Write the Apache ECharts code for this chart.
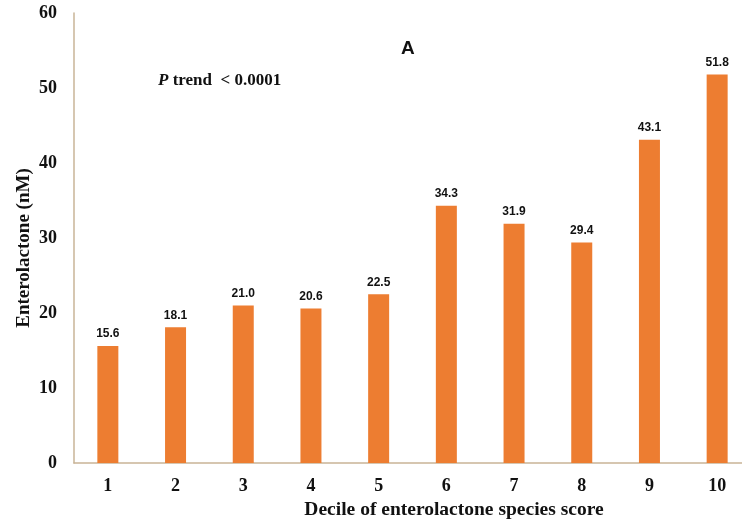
<!DOCTYPE html>
<html>
<head>
<meta charset="utf-8">
<script src="https://cdn.jsdelivr.net/npm/echarts@6/dist/echarts.min.js"></script>
<style>
  html, body { margin: 0; padding: 0; background: #fff; }
  #chart { width: 742px; height: 525px; }
</style>
</head>
<body>
<div id="chart"></div>
<script>
// Deciles of the enterolactone species score and mean enterolactone (nM)
const deciles = ['1', '2', '3', '4', '5', '6', '7', '8', '9', '10'];
const enterolactone = [15.6, 18.1, 21.0, 20.6, 22.5, 34.3, 31.9, 29.4, 43.1, 51.8];
const yTicks = [0, 10, 20, 30, 40, 50, 60];

const serif = '"Liberation Serif", "Times New Roman", serif';
const sans = '"Liberation Sans", Arial, sans-serif';
const axisColor = '#c9b497';

const chart = echarts.init(document.getElementById('chart'));
chart.setOption({
  animation: false,
  backgroundColor: '#ffffff',
  // plot area runs past the right edge of the canvas
  grid: { left: 74, width: 677, top: 13, bottom: 62, containLabel: false, outerBoundsMode: 'none' },
  graphic: [
    {
      type: 'text',
      left: 401, top: 39,
      style: { text: 'A', font: 'bold 19px ' + sans, fill: '#111' }
    },
    {
      type: 'text',
      left: 158, top: 72,
      style: {
        text: '{p|P} trend  < 0.0001',
        font: 'bold 17px ' + serif,
        fill: '#111',
        rich: { p: { fontStyle: 'italic', fontWeight: 'bold', fontSize: 17, fontFamily: serif, fill: '#111' } }
      }
    },
    {
      type: 'text',
      x: 24, y: 248,
      rotation: Math.PI / 2,
      style: {
        text: 'Enterolactone (nM)',
        font: 'bold 19px ' + serif,
        fill: '#111',
        textAlign: 'center',
        textVerticalAlign: 'middle'
      }
    },
    {
      type: 'text',
      x: 454, y: 510,
      style: {
        text: 'Decile of enterolactone species score',
        font: 'bold 19.5px ' + serif,
        fill: '#111',
        textAlign: 'center',
        textVerticalAlign: 'middle'
      }
    }
  ],
  xAxis: {
    type: 'category',
    data: deciles,
    axisLine: { lineStyle: { color: axisColor, width: 1.5 } },
    axisTick: { show: false },
    axisLabel: { fontFamily: serif, fontWeight: 'bold', fontSize: 18, color: '#111', margin: 14 }
  },
  yAxis: {
    type: 'value',
    min: yTicks[0], max: yTicks[yTicks.length - 1], interval: 10,
    axisLine: { show: true, lineStyle: { color: axisColor, width: 1.5 } },
    axisTick: { show: false },
    splitLine: { show: false },
    axisLabel: { fontFamily: serif, fontWeight: 'bold', fontSize: 18, color: '#111', margin: 17 }
  },
  series: [{
    type: 'bar',
    data: enterolactone,
    barWidth: 21,
    itemStyle: { color: '#ED7D31' },
    label: {
      show: true,
      position: 'top',
      distance: 6,
      formatter: p => p.value.toFixed(1),
      fontFamily: sans,
      fontWeight: 'bold',
      fontSize: 12,
      color: '#111'
    }
  }]
});
</script>
</body>
</html>
